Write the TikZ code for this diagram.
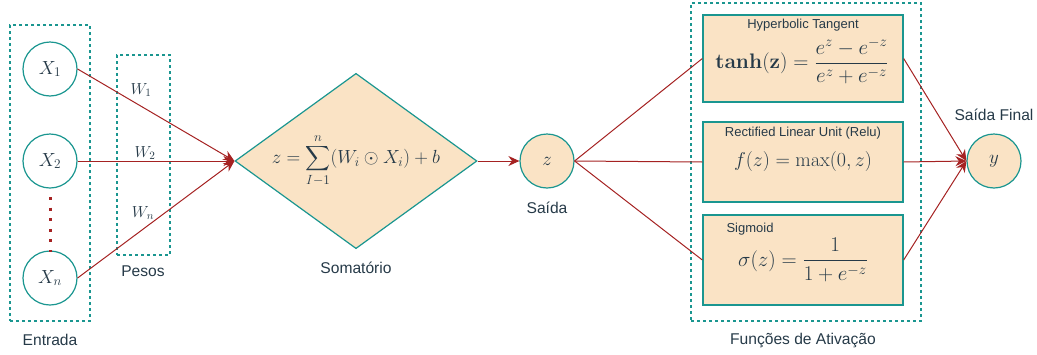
\RequirePackage{fix-cm}
\documentclass[tikz,border=0pt]{standalone}
\usepackage[no-math]{fontspec}
\setmainfont{Liberation Sans}
\usepackage{amsmath}
\usetikzlibrary{shapes.geometric,arrows.meta}
\definecolor{tealc}{HTML}{1A9690}
\definecolor{peach}{HTML}{FAE3C5}
\definecolor{arrc}{HTML}{A52222}
\definecolor{ink}{HTML}{263A48}
\newcommand{\mfont}{\fontsize{19}{22}\selectfont}
\newcommand{\mbig}{\fontsize{21}{24}\selectfont}
\tikzset{
  inpnode/.style={circle,draw=tealc,line width=1.2pt,minimum size=54pt,inner sep=0pt,fill=white,text=ink,font=\mfont},
  outnode/.style={inpnode,fill=peach},
  fnbox/.style={draw=tealc,line width=1.3pt,fill=peach,minimum width=200pt,inner sep=0pt},
  grp/.style={draw=tealc,dash pattern=on 3pt off 3pt,line width=1.1pt,inner sep=0pt},
  lbl/.style={text=ink,font=\fontsize{15.6}{18}\selectfont,inner sep=0pt},
  small/.style={text=ink,font=\fontsize{13}{15}\selectfont,inner sep=0pt},
  mathlbl/.style={text=ink,font=\mfont,inner sep=0pt},
  wlbl/.style={text=ink,font=\fontsize{16}{19}\selectfont,inner sep=0pt},
  conn/.style={draw=arrc,line width=1pt},
  arr/.style={conn,-{Stealth[length=11pt,width=10pt]}}
}
\begin{document}
\begin{tikzpicture}[x=1pt,y=-1pt]
\useasboundingbox (0,0) rectangle (1037,354);
% groups
\node[grp,minimum width=80pt,minimum height=296pt] (gin) at (50,173) {};
\node[grp,minimum width=53pt,minimum height=200pt] (gw) at (143.5,155) {};
\node[grp,minimum width=230pt,minimum height=318pt] (gf) at (806,162) {};
% inputs
\node[inpnode] (x1) at (50,69) {$X_1$};
\node[inpnode] (x2) at (50,161) {$X_2$};
\node[inpnode] (xn) at (50,278) {$X_n$};
\coordinate (d1) at (50,197);
\coordinate (d2) at (50,252);
\draw[arrc,line width=3pt,dash pattern=on 3pt off 7.6pt] (d1) -- (d2);
\node[lbl] (lin) at (50,340) {Entrada};
\node[lbl] (lw) at (143,271) {Pesos};
% sum
\node[diamond,aspect=1.38,draw=tealc,line width=1.2pt,fill=peach,minimum width=238pt,minimum height=172pt,inner sep=0pt,text=ink,font=\mfont] (sum) at (356,161) {$\displaystyle z=\sum_{I-1}^{n}(W_i\odot X_i)+b$};
\node[lbl] (lsum) at (356,268) {Somatório};
% weights
\draw[arr] (x1.east) -- (sum.west);
\draw[arr] (x2.east) -- (sum.west);
\draw[arr] (xn.east) -- (sum.west);
\node[wlbl] (w1) at (141,90) {$W_1$};
\node[wlbl] (w2) at (145,153) {$W_2$};
\node[wlbl] (wn) at (143,213) {$W_n$};
% z
\node[outnode] (z) at (547,161) {$z$};
\node[lbl] (lz) at (547,208) {Saída};
\draw[arr] (sum.east) -- (z.west);
% functions
\node[fnbox,minimum height=87pt] (f1) at (803,58.5) {};
\node[fnbox,minimum height=80pt] (f2) at (803,162) {};
\node[fnbox,minimum height=90pt] (f3) at (803,260) {};
\node[small] (t1) at (803,25) {Hyperbolic Tangent};
\node[small] (t2) at (803,133) {Rectified Linear Unit (Relu)};
\node[small] (t3) at (750,229) {Sigmoid};
\node[mathlbl,font=\mbig] (e1) at (802,61) {$\displaystyle \mathbf{tanh(z)}=\frac{e^z-e^{-z}}{e^z+e^{-z}}$};
\node[mathlbl,font=\fontsize{20}{23}\selectfont] (e2) at (803,161) {$f(z)=\max(0,z)$};
\node[mathlbl,font=\mbig] (e3) at (803,260) {$\displaystyle \sigma(z)=\frac{1}{1+e^{-z}}$};
\node[lbl] (lf) at (803,340) {Funções de Ativação};
\draw[conn] (z.east) -- (f1.west);
\draw[conn] (z.east) -- (f2.west);
\draw[conn] (z.east) -- (f3.west);
% y
\node[outnode] (y) at (994,161) {$y$};
\node[lbl] (ly) at (994,115) {Saída Final};
\draw[arr] (f1.east) -- (y.west);
\draw[arr] (f2.east) -- (y.west);
\draw[arr] (f3.east) -- (y.west);
\end{tikzpicture}
\end{document}
